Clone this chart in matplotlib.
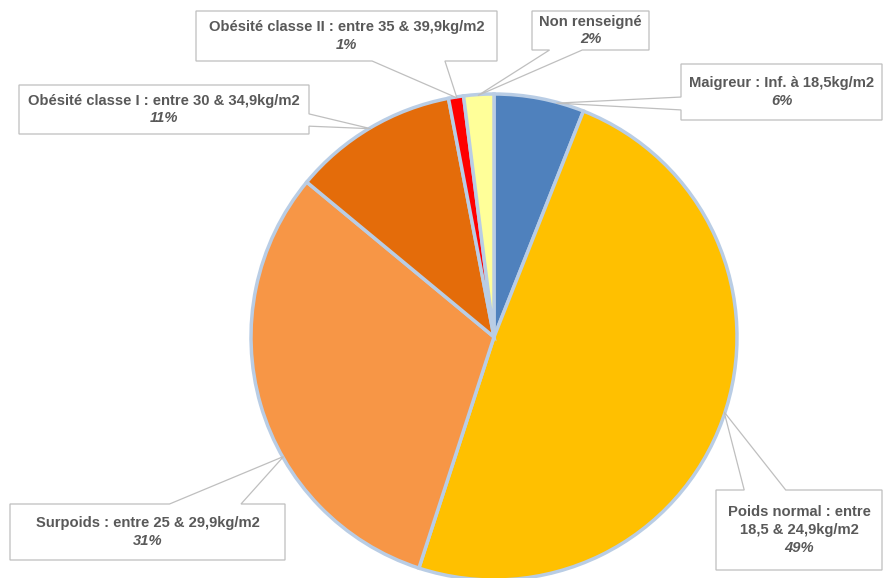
import numpy as np
import matplotlib.pyplot as plt
from matplotlib.patches import Polygon

plt.rcParams['font.family'] = ['Liberation Sans', 'DejaVu Sans']

# data
labels = ["Maigreur : Inf. à 18,5kg/m2",
          "Poids normal : entre\n18,5 & 24,9kg/m2",
          "Surpoids : entre 25 & 29,9kg/m2",
          "Obésité classe I : entre 30 & 34,9kg/m2",
          "Obésité classe II : entre 35 & 39,9kg/m2",
          "Non renseigné"]
values = [6, 49, 31, 11, 1, 2]
colors = ['#4F81BD', '#FFC000', '#F79646', '#E46C0A', '#FF0000', '#FFFF99']

# layout of the callouts (pixel coords: left, top, right, bottom), side of the pointer,
# pointer base as fractions of that side, and where the tip sits inside the wedge
boxes = [(681, 64, 882, 120), (716, 490, 882, 570), (10, 504, 285, 560),
         (19, 85, 309, 134), (196, 11, 497, 61), (532, 11, 649, 50)]
sides = ['left', 'top', 'top', 'right', 'bottom', 'bottom']
bases = [(0.59, 0.82), (0.17, 0.42), (0.58, 0.84), (0.59, 0.84), (0.585, 0.827), (0.15, 0.43)]
tip_frac = [0.69, 0.49, 0.38, 0.5, 0.55, 0.47]

W, H = 883, 578
cx, cy, R = 494, 337, 243
text_color = '#595959'
box_edge = '#BFBFBF'

fig = plt.figure(figsize=(W / 100, H / 100), dpi=100)
ax = fig.add_axes([0, 0, 1, 1])

ax.pie(values, colors=colors, startangle=-90, counterclock=True,
       center=(cx, cy), radius=R,
       wedgeprops=dict(edgecolor='#B9CDE5', linewidth=2.5))
ax.set_xlim(0, W)
ax.set_ylim(H, 0)
ax.set_aspect('equal')
ax.axis('off')

total = float(sum(values))
cum = np.concatenate([[0], np.cumsum(values)]) / total

for i, lab in enumerate(labels):
    # tip of the pointer on the pie edge
    f = cum[i] + tip_frac[i] * (cum[i + 1] - cum[i])
    th = np.deg2rad(-90 + 360 * f)
    tip = (cx + (R - 1) * np.cos(th), cy + (R - 1) * np.sin(th))

    x0, y0, x1, y1 = boxes[i]
    a, b = bases[i]
    if sides[i] == 'top':
        pts = [(x0, y0), (x0 + a * (x1 - x0), y0), tip, (x0 + b * (x1 - x0), y0),
               (x1, y0), (x1, y1), (x0, y1)]
    elif sides[i] == 'bottom':
        pts = [(x0, y0), (x1, y0), (x1, y1), (x0 + b * (x1 - x0), y1), tip,
               (x0 + a * (x1 - x0), y1), (x0, y1)]
    elif sides[i] == 'left':
        pts = [(x0, y0), (x1, y0), (x1, y1), (x0, y1), (x0, y0 + b * (y1 - y0)), tip,
               (x0, y0 + a * (y1 - y0))]
    else:
        pts = [(x0, y0), (x1, y0), (x1, y0 + a * (y1 - y0)), tip,
               (x1, y0 + b * (y1 - y0)), (x1, y1), (x0, y1)]
    ax.add_patch(Polygon(pts, closed=True, facecolor='white', edgecolor=box_edge,
                         linewidth=0.9, zorder=5))

    lines = lab.split('\n') + [f"{values[i]:.0f}%"]
    n = len(lines)
    xm, ym = (x0 + x1) / 2, (y0 + y1) / 2
    for j, t in enumerate(lines):
        yy = ym + (j - (n - 1) / 2) * 17.5
        ax.text(xm, yy, t, ha='center', va='center', fontsize=10.6, fontweight='bold',
                fontstyle='italic' if j == n - 1 else 'normal',
                color=text_color, zorder=6)

fig.savefig('out.png', dpi=100)
